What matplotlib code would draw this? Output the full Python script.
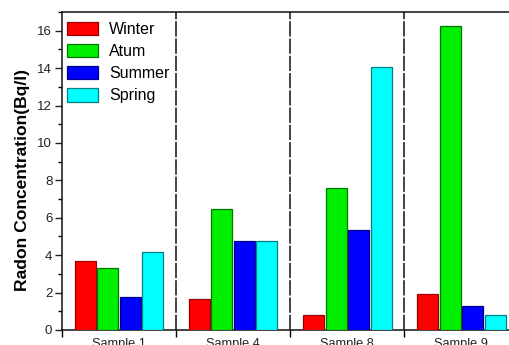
import matplotlib
matplotlib.use("Agg")
import matplotlib.pyplot as plt
import numpy as np
from matplotlib.ticker import MultipleLocator, FixedLocator

plt.rcParams['font.family'] = ['Liberation Sans', 'DejaVu Sans']

samples = ["Sample 1", "Sample 4", "Sample 8", "Sample 9"]
seasons = ["Winter", "Atum", "Summer", "Spring"]
winter = [3.69, 1.64, 0.79, 1.93]
atum = [3.33, 6.47, 7.61, 16.23]
summer = [1.77, 4.76, 5.35, 1.28]
spring = [4.16, 4.76, 14.06, 0.80]

face_colors = ["#ff0000", "#00ee00", "#0000ff", "#00ffff"]
edge_colors = ["#990000", "#007700", "#000088", "#008080"]

fig = plt.figure(figsize=(5.10, 3.45), dpi=100)
ax = fig.add_axes([62 / 510, 15 / 345, 456.5 / 510, 318 / 345])

x = np.arange(len(samples))
slot = 0.197
width = 0.184
series = [winter, atum, summer, spring]
for i, (vals, name) in enumerate(zip(series, seasons)):
    ax.bar(x + (i - 1.5) * slot, vals, width=width, color=face_colors[i],
           edgecolor=edge_colors[i], linewidth=0.9, label=name, zorder=3)

ax.set_xlim(-0.5, 3.5)
ax.set_ylim(0, 17)

# group separators
for b in [0.5, 1.5, 2.5]:
    ax.axvline(b, color="#111111", linewidth=1.1, linestyle=(0, (10, 1.3)), zorder=2)

# y axis ticks
ax.yaxis.set_major_locator(MultipleLocator(2))
ax.yaxis.set_minor_locator(MultipleLocator(1))
ax.tick_params(axis='y', which='major', direction='out', length=5, width=1,
               labelsize=9.5, pad=2, colors='#222222')
ax.tick_params(axis='y', which='minor', direction='out', length=3, width=1)

# x axis: ticks on group boundaries, labels at group centres
ax.xaxis.set_major_locator(FixedLocator([-0.5, 0.5, 1.5, 2.5, 3.5]))
ax.xaxis.set_major_formatter(plt.NullFormatter())
ax.xaxis.set_minor_locator(FixedLocator(x))
ax.set_xticklabels(samples, minor=True)
ax.tick_params(axis='x', which='major', direction='out', length=5, width=1)
ax.tick_params(axis='x', which='minor', length=0, labelsize=9.2, pad=6,
               colors='#222222')

for s in ['left', 'bottom', 'top']:
    ax.spines[s].set_linewidth(1.1)
    ax.spines[s].set_color('#111111')
ax.spines['right'].set_visible(False)

ax.set_ylabel("Radon Concentration(Bq/l)", fontsize=12.6, fontweight='bold')
ax.yaxis.set_label_coords(-32 / 456.5, (330 - 180) / 318)

leg = ax.legend(loc='upper left', bbox_to_anchor=(5 / 456.5, 1 - 9.5 / 318),
                frameon=False, fontsize=11.5, handlelength=1.95,
                handleheight=0.95, handletextpad=0.7, labelspacing=0.42,
                borderpad=0, borderaxespad=0)

fig.savefig("out.png", dpi=100)
